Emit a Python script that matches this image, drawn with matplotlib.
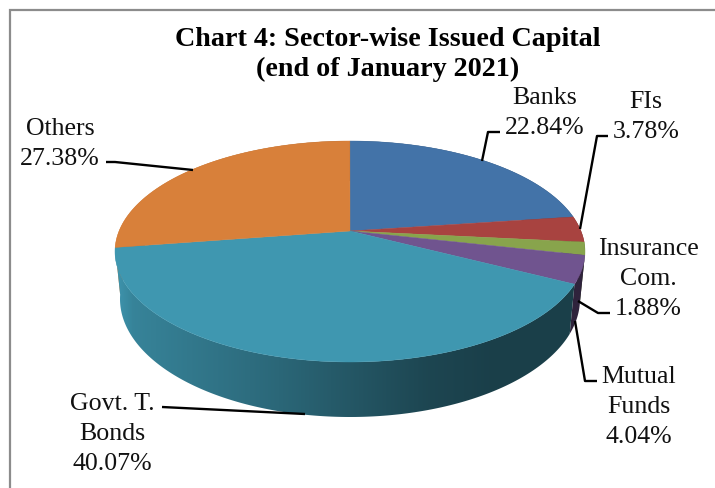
import numpy as np
import matplotlib
matplotlib.use('Agg')
import matplotlib.pyplot as plt
from matplotlib.colors import to_rgb
from matplotlib.patches import Polygon

plt.rcParams['font.family'] = ['Liberation Serif', 'DejaVu Serif']

title = 'Chart 4: Sector-wise Issued Capital\n(end of January 2021)'
sectors = ['Banks', 'FIs', 'Insurance\nCom.', 'Mutual\nFunds', 'Govt. T.\nBonds', 'Others']
shares = [22.84, 3.78, 1.88, 4.04, 40.07, 27.38]
top_colors = ['#4373a8', '#a84340', '#88a44c', '#70548f', '#3f97b0', '#d8803a']

W, H = 715, 489

# picture pixels for the labels and their leader lines
label_pos = [(545, 113), (646, 117), (648, 279), (639, 407), (112, 434), (60, 144)]
leaders = [
    [(482, 162), (488, 133), (500, 133)],
    [(580, 230), (597, 137), (608, 137)],
    [(578, 302), (598, 314), (610, 314)],
    [(575, 322), (585, 382), (597, 382)],
    [(305, 415), (162, 408)],
    [(193, 171), (115, 163), (106, 163)],
]

# the pie is seen in perspective, so its centre sits above the middle of the ellipse
apex_x, apex_y = 350, 232
up, down, half_w = 90, 131, 235
p = (down - up) / (down + up)
B = up * (1 + p)
A = half_w * np.sqrt(1 - p ** 2)

mid_y = apex_y + (down - up) / 2
ry = (down + up) / 2
foot_y, foot_rx, foot_ry = 300, 230, 118


def rim(theta):
    u, v = np.cos(theta), np.sin(theta)
    d = 1 + p * v
    return apex_x + A * u / d, apex_y - B * v / d


def foot(theta):
    x, y = rim(theta)
    return apex_x + (x - apex_x) * foot_rx / half_w, foot_y + (y - mid_y) * foot_ry / ry


def wall_shade(x):
    return np.interp(x, [115, 133, 267, 333, 430, 490], [1.0, 0.87, 0.70, 0.60, 0.46, 0.42])


fig = plt.figure(figsize=(W / 100, H / 100), dpi=100)
ax = fig.add_axes([0, 0, 1, 1])
edges = np.radians(90 - np.cumsum([0] + shares) * 3.6)

xx = np.arange(W) + 0.5

# walls first, back pieces before the front ones
for i in [5, 0, 1, 2, 3, 4]:
    t = np.linspace(edges[i], edges[i + 1], 200)
    x1, y1 = rim(t)
    x2, y2 = foot(t)
    poly = Polygon(np.column_stack([np.r_[x1, x2[::-1]], np.r_[y1, y2[::-1]]]),
                   closed=True, transform=ax.transData, fc='none', ec='none')
    ax.add_patch(poly)
    grad = np.outer(wall_shade(xx), to_rgb(top_colors[i]))[np.newaxis, :, :]
    img = ax.imshow(grad, extent=[0, W, H, 0], aspect='auto', interpolation='bilinear', zorder=1)
    img.set_clip_path(poly)

# top face
for i in range(len(shares)):
    t = np.linspace(edges[i], edges[i + 1], 200)
    x, y = rim(t)
    ax.fill(np.r_[apex_x, x], np.r_[apex_y, y], color=top_colors[i], lw=0.3, zorder=2)

# frame: only top and left show
ax.plot([10, 10, W], [H, 11, 11], color='#8c8c8c', lw=1.6, zorder=3, solid_joinstyle='miter')

for line in leaders:
    xs, ys = zip(*line)
    ax.plot(xs, ys, color='black', lw=1.7, solid_capstyle='butt', zorder=4)

for name, share, (x, y) in zip(sectors, shares, label_pos):
    ax.text(x, y, f'{name}\n{share:.2f}%', ha='center', va='center', fontsize=18.6,
            linespacing=1.45, color='#111111', zorder=5)

ax.text(388, 54.5, title, ha='center', va='center', fontsize=20.25, fontweight='bold',
        linespacing=1.29, color='black', zorder=5)

ax.set_xlim(0, W)
ax.set_ylim(H, 0)
ax.axis('off')

fig.savefig('out.png', dpi=100)
